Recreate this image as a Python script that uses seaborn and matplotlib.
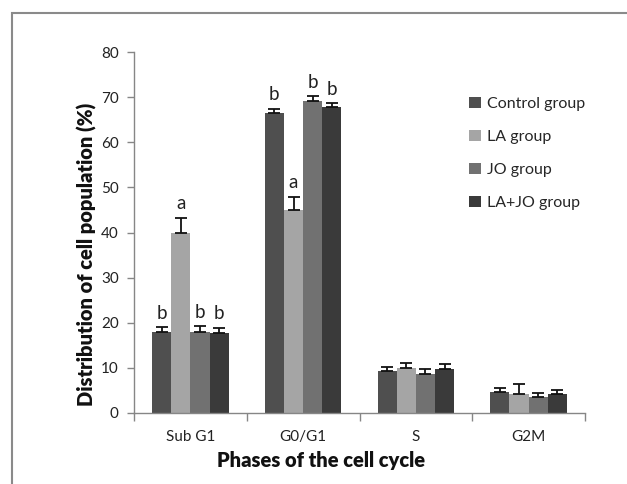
import numpy as np
import pandas as pd
import seaborn as sns
import matplotlib
matplotlib.use("Agg")
import matplotlib.pyplot as plt
from matplotlib.patches import Rectangle

phases = ["Sub G1", "G0/G1", "S", "G2M"]
groups = ["Control group", "LA group", "JO group", "LA+JO group"]
control = [18.0, 66.5, 9.4, 4.7]
la = [40.0, 45.0, 10.0, 4.1]
jo = [18.0, 69.2, 8.7, 3.6]
lajo = [17.8, 67.8, 9.7, 4.1]
control_err = [1.0, 0.9, 0.9, 0.8]
la_err = [3.3, 2.9, 1.1, 2.3]
jo_err = [1.2, 1.0, 1.0, 0.8]
lajo_err = [1.1, 0.8, 1.1, 1.1]
letters_subg1 = ["b", "a", "b", "b"]
letters_g0g1 = ["b", "a", "b", "b"]
colors = ["#4f4f4f", "#a5a5a5", "#717171", "#3a3a3a"]

sns.set_style("white")
plt.rcParams['font.family'] = ['Lato', 'DejaVu Sans']

rows = []
vals = [control, la, jo, lajo]
errs = [control_err, la_err, jo_err, lajo_err]
for g, v, e in zip(groups, vals, errs):
    for p, vv, ee in zip(phases, v, e):
        rows.append({"Phase": p, "Group": g, "Value": vv, "Err": ee})
df = pd.DataFrame(rows)

fig = plt.figure(figsize=(6.27, 4.84), dpi=100)
ax = fig.add_axes([134/627, 1-413/484, (585-134)/627, (413-52)/484])

sns.barplot(data=df, x="Phase", y="Value", hue="Group", order=phases,
            hue_order=groups, palette=colors, errorbar=None, width=0.68,
            saturation=1, ax=ax, legend=True, edgecolor="none")

# error bars (upper only) and letters
for gi, g in enumerate(groups):
    cont = ax.containers[gi]
    for pi, bar in enumerate(cont):
        x = bar.get_x() + bar.get_width()/2
        h = bar.get_height()
        e = errs[gi][pi]
        ax.errorbar([x], [h], yerr=[[0], [e]], fmt="none", ecolor="#111111",
                    elinewidth=1.3, capsize=4, capthick=1.3)
        letter = None
        if pi == 0:
            letter = letters_subg1[gi]
        elif pi == 1:
            letter = letters_g0g1[gi]
        if letter:
            ax.annotate(letter, (x, h + e), xytext=(0, 4), textcoords="offset points",
                        ha="center", va="bottom", fontsize=13.5, color="#222222")

ax.set_ylim(0, 80)
ax.set_xlim(-0.5, 3.5)
ax.set_yticks(np.arange(0, 81, 10))
ax.tick_params(axis="y", labelsize=11, length=5, width=1, color="#868686",
               direction="out", left=True, pad=6, labelcolor="#222222")
ax.set_xticks(np.arange(-0.5, 3.6, 1.0), minor=True)
ax.tick_params(axis="x", which="minor", length=6, width=1, color="#868686",
               direction="out", bottom=True)
ax.tick_params(axis="x", which="major", length=0, labelsize=11, pad=12,
               labelcolor="#222222")
for s in ["top", "right"]:
    ax.spines[s].set_visible(False)
for s in ["left", "bottom"]:
    ax.spines[s].set_color("#868686")
    ax.spines[s].set_linewidth(1)

ax.set_xlabel("Phases of the cell cycle", fontsize=14.5, fontweight="heavy",
              color="#111111")
ax.set_ylabel("Distribution of cell population (%)", fontsize=14.5,
              fontweight="heavy", color="#111111")
ax.xaxis.set_label_coords(0.415, -0.105)
ax.yaxis.set_label_coords(-0.082, 0.44)

leg = ax.legend(loc="upper left", bbox_to_anchor=(0.712, 0.915), frameon=False,
                fontsize=11.5, handlelength=0.7, handleheight=0.7,
                labelspacing=1.17, handletextpad=0.4)

fig.patches.append(Rectangle((12/627, -0.1), 1.2, 1.1 - 13/484,
                             transform=fig.transFigure, fill=False,
                             edgecolor="#8a8a8a", linewidth=1.5))

fig.savefig("out.png", dpi=100)
